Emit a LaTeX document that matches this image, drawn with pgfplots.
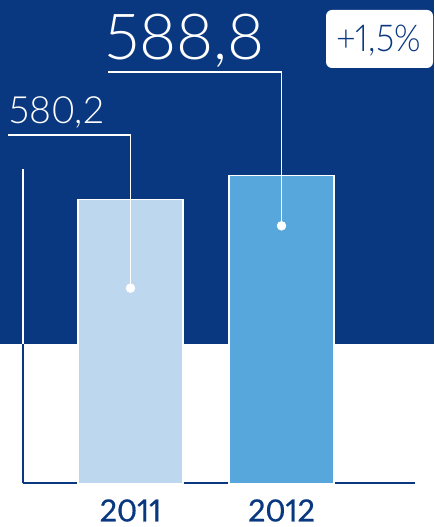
\documentclass[border=0pt]{standalone}
\usepackage{fontspec}
\setmainfont{Lato}[UprightFont={* Light}, BoldFont={* Bold}, Numbers=Proportional]
\newfontfamily\yearfont{Lato}[Numbers=Proportional, UprightFeatures={FakeBold=0.6}]
\usepackage{pgfplots}
\pgfplotsset{compat=1.18}
\definecolor{navy}{HTML}{0A3880}
\definecolor{lightbar}{HTML}{BCD7EE}
\definecolor{midbar}{HTML}{57A7DC}
\begin{document}
\begin{tikzpicture}[x=1pt,y=1pt]
\useasboundingbox (0,0) rectangle (434,527);
\fill[navy] (0,183) rectangle (434,527);
\begin{axis}[
  at={(23pt,43.7pt)}, anchor=south west,
  scale only axis, width=392pt, height=314.3pt,
  xmin=-0.712, xmax=1.884, ymin=476.7, ymax=591.2,
  axis x line=bottom, axis y line=left,
  axis line style={navy, line width=1.6pt, -},
  ytick=\empty, xtick={0,1}, xticklabels={2011,2012},
  major tick length=0pt,
  xticklabel style={font=\yearfont\fontsize{30.5}{30.5}\selectfont, text=navy, yshift=-12.5pt},
  bar width=105pt,
]
\addplot[ybar, bar shift=0pt, fill=lightbar, draw=white, line width=1.2pt] coordinates {(0,580.2)};
\addplot[ybar, bar shift=0pt, fill=midbar, draw=white, line width=1.2pt] coordinates {(1,588.8)};
\coordinate (d1) at (axis cs:0,547.8);
\coordinate (d2) at (axis cs:1,570.5);
\end{axis}
\draw[white, line width=1.5pt] (23,183) -- (23,358);
\draw[white, line width=1.3pt] (d1) |- (8,392);
\draw[white, line width=1.3pt] (d2) |- (108,455);
\begin{axis}[
  at={(23pt,43.7pt)}, anchor=south west,
  scale only axis, width=392pt, height=314.3pt,
  xmin=-0.712, xmax=1.884, ymin=476.7, ymax=591.2,
  hide axis,
]
\addplot[only marks, mark=*, mark size=4.5pt, white] coordinates {(0,547.8) (1,570.5)};
\end{axis}
\node[anchor=base west, inner sep=0, text=white, font=\fontsize{37.5}{37.5}\selectfont] at (9,403) {580,2};
\node[anchor=base west, inner sep=0, text=white, font=\fontsize{63.5}{63.5}\selectfont] at (105,467) {588,8};
\fill[white, rounded corners=6pt] (326,459) rectangle (433,517);
\node[anchor=base west, inner sep=0, text=navy, font=\fontsize{37}{37}\selectfont] at (336,475) {\scalebox{0.92}[1]{+1,5\%}};
\end{tikzpicture}
\end{document}
